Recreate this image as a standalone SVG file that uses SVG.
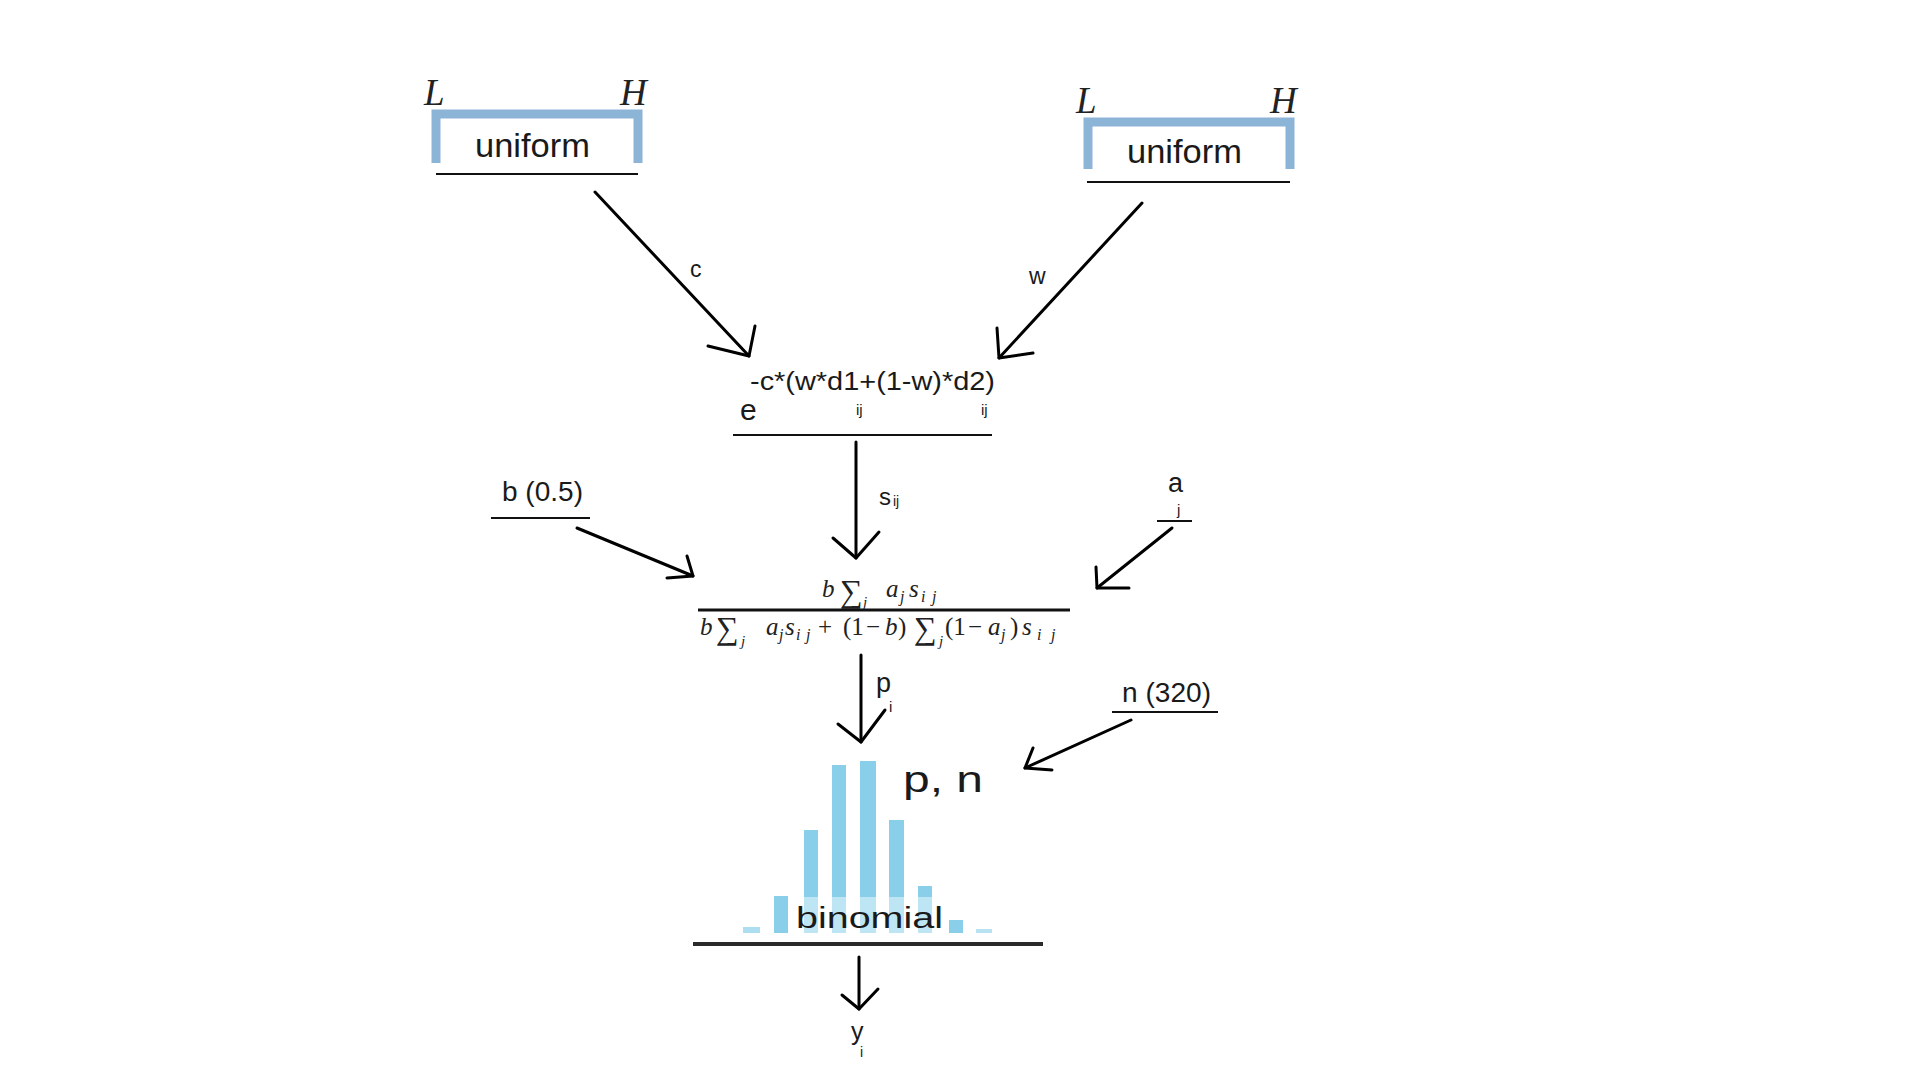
<svg xmlns="http://www.w3.org/2000/svg" width="1920" height="1080" viewBox="0 0 1920 1080">
<style>
.bg{fill:#ffffff}
.conn{fill:none;stroke:#000;stroke-width:3;stroke-linecap:round;stroke-linejoin:round}
.rule{stroke:#111;stroke-width:2}
.bracket{fill:none;stroke:#8cb4d6;stroke-width:9}
.sans{font-family:"Liberation Sans","Open Sans",sans-serif;fill:#1a1a1a}
.tex{font-family:"Liberation Serif","DejaVu Serif",serif;font-style:italic;fill:#222}
.texu{font-family:"Liberation Serif","DejaVu Serif",serif;font-style:normal;fill:#222}
.bar{fill:#89cfea}
</style>
<rect class="bg" x="0" y="0" width="1920" height="1080"/>

<g id="uniform-c">
  <text class="tex" x="424" y="105" font-size="37">L</text>
  <text class="tex" x="620" y="105" font-size="37">H</text>
  <polyline class="bracket" points="436,163 436,114 638,114 638,163"/>
  <text class="sans" x="475" y="157" font-size="33" textLength="115" lengthAdjust="spacingAndGlyphs">uniform</text>
  <line class="rule" x1="436" y1="174" x2="638" y2="174" stroke-width="3"/>
</g>

<g id="uniform-w">
  <text class="tex" x="1076" y="113" font-size="37">L</text>
  <text class="tex" x="1270" y="113" font-size="37">H</text>
  <polyline class="bracket" points="1088,169 1088,122 1290,122 1290,169"/>
  <text class="sans" x="1127" y="163" font-size="33" textLength="115" lengthAdjust="spacingAndGlyphs">uniform</text>
  <line class="rule" x1="1087" y1="182" x2="1290" y2="182" stroke-width="3"/>
</g>

<g id="similarity">
  <text class="sans" x="750" y="390" font-size="26" textLength="245" lengthAdjust="spacingAndGlyphs">-c*(w*d1+(1-w)*d2)</text>
  <text class="sans" x="740" y="420" font-size="30">e</text>
  <text class="sans" x="856" y="415" font-size="15">ij</text>
  <text class="sans" x="981" y="415" font-size="15">ij</text>
  <line class="rule" x1="733" y1="435" x2="992" y2="435"/>
</g>

<g id="b-param">
  <text class="sans" x="502" y="501" font-size="27" textLength="81" lengthAdjust="spacingAndGlyphs">b (0.5)</text>
  <line class="rule" x1="491" y1="518" x2="590" y2="518"/>
</g>

<g id="a-param">
  <text class="sans" x="1168" y="492" font-size="27">a</text>
  <text class="sans" x="1177" y="515" font-size="15">j</text>
  <line class="rule" x1="1157" y1="521" x2="1192" y2="521"/>
</g>

<g id="probability">
  <text class="tex" font-size="25">
    <tspan x="822" y="597">b</tspan>
    <tspan class="texu" x="840" y="602" font-size="32">∑</tspan>
    <tspan x="863" y="607" font-size="15">j</tspan>
    <tspan x="886" y="597">a</tspan>
    <tspan x="900" y="602" font-size="16">j</tspan>
    <tspan x="909" y="597">s</tspan>
    <tspan x="921" y="602" font-size="16">i</tspan>
    <tspan x="932" y="602" font-size="16">j</tspan>
  </text>
  <line x1="698" y1="610" x2="1070" y2="610" stroke="#111" stroke-width="3"/>
  <text class="tex" font-size="25">
    <tspan x="700" y="635">b</tspan>
    <tspan class="texu" x="716" y="639" font-size="32">∑</tspan>
    <tspan x="741" y="646" font-size="15">j</tspan>
    <tspan x="766" y="635">a</tspan>
    <tspan x="779" y="640" font-size="16">j</tspan>
    <tspan x="785" y="635">s</tspan>
    <tspan x="796" y="640" font-size="16">i</tspan>
    <tspan x="806" y="640" font-size="16">j</tspan>
    <tspan class="texu" x="818" y="635" fill="#7f9cc4">+</tspan>
    <tspan class="texu" x="843" y="635" fill="#3a1a1a">(1</tspan>
    <tspan class="texu" x="866" y="635" fill="#7f9cc4">−</tspan>
    <tspan x="885" y="635">b</tspan>
    <tspan class="texu" x="898" y="635">)</tspan>
    <tspan class="texu" x="914" y="639" font-size="32">∑</tspan>
    <tspan x="939" y="646" font-size="15">j</tspan>
    <tspan class="texu" x="945" y="635">(1</tspan>
    <tspan class="texu" x="968" y="635" fill="#7f9cc4">−</tspan>
    <tspan x="988" y="635">a</tspan>
    <tspan x="1001" y="640" font-size="16">j</tspan>
    <tspan class="texu" x="1010" y="635">)</tspan>
    <tspan x="1022" y="635">s</tspan>
    <tspan x="1037" y="640" font-size="16">i</tspan>
    <tspan x="1051" y="640" font-size="16">j</tspan>
  </text>
</g>

<g id="n-param">
  <text class="sans" x="1122" y="702" font-size="27" textLength="89" lengthAdjust="spacingAndGlyphs">n (320)</text>
  <line class="rule" x1="1112" y1="712" x2="1218" y2="712"/>
</g>

<g id="binomial">
  <rect class="bar" x="743" y="927" width="17" height="6" opacity="0.7"/>
  <rect class="bar" x="774" y="896" width="14" height="37"/>
  <rect class="bar" x="804" y="830" width="14" height="103"/>
  <rect class="bar" x="832" y="765" width="14" height="168"/>
  <rect class="bar" x="860" y="761" width="16" height="172"/>
  <rect class="bar" x="889" y="820" width="15" height="113"/>
  <rect class="bar" x="918" y="886" width="14" height="47"/>
  <rect class="bar" x="949" y="920" width="14" height="13"/>
  <rect class="bar" x="976" y="929" width="16" height="4" opacity="0.6"/>
  <rect x="792" y="897" width="155" height="37" fill="#ffffff" opacity="0.45"/>
  <text class="sans" x="796" y="928" font-size="30" textLength="147" lengthAdjust="spacingAndGlyphs">binomial</text>
  <text class="sans" x="903" y="792" font-size="37" textLength="80" lengthAdjust="spacingAndGlyphs">p, n</text>
  <line x1="693" y1="944" x2="1043" y2="944" stroke="#2a2a2a" stroke-width="4"/>
</g>

<g id="y-out">
  <text class="sans" x="851" y="1040" font-size="25">y</text>
  <text class="sans" x="860" y="1057" font-size="14">i</text>
</g>

<g id="connectors">
  <polyline class="conn" points="595,192 749,356"/>
  <polyline class="conn" points="708,346 749,356 755,326"/>
  <text class="sans" x="690" y="277" font-size="23">c</text>

  <polyline class="conn" points="1142,203 999,358"/>
  <polyline class="conn" points="997,328 999,358 1033,353"/>
  <text class="sans" x="1029" y="284" font-size="23">w</text>

  <polyline class="conn" points="856,442 856,558"/>
  <polyline class="conn" points="833,538 856,558 879,532"/>
  <text class="sans" x="879" y="505" font-size="24">s</text>
  <text class="sans" x="893" y="506" font-size="14">ij</text>

  <polyline class="conn" points="577,528 693,576"/>
  <polyline class="conn" points="687,556 693,576 667,578"/>

  <polyline class="conn" points="1172,528 1097,588"/>
  <polyline class="conn" points="1096,567 1097,588 1129,588"/>

  <polyline class="conn" points="861,655 861,742"/>
  <polyline class="conn" points="838,724 861,742 885,710"/>
  <text class="sans" x="876" y="692" font-size="27">p</text>
  <text class="sans" x="889" y="712" font-size="15">i</text>

  <polyline class="conn" points="1131,720 1025,768"/>
  <polyline class="conn" points="1033,748 1025,768 1052,770"/>

  <polyline class="conn" points="859,957 859,1009"/>
  <polyline class="conn" points="842,995 859,1009 878,989"/>
</g>
</svg>
